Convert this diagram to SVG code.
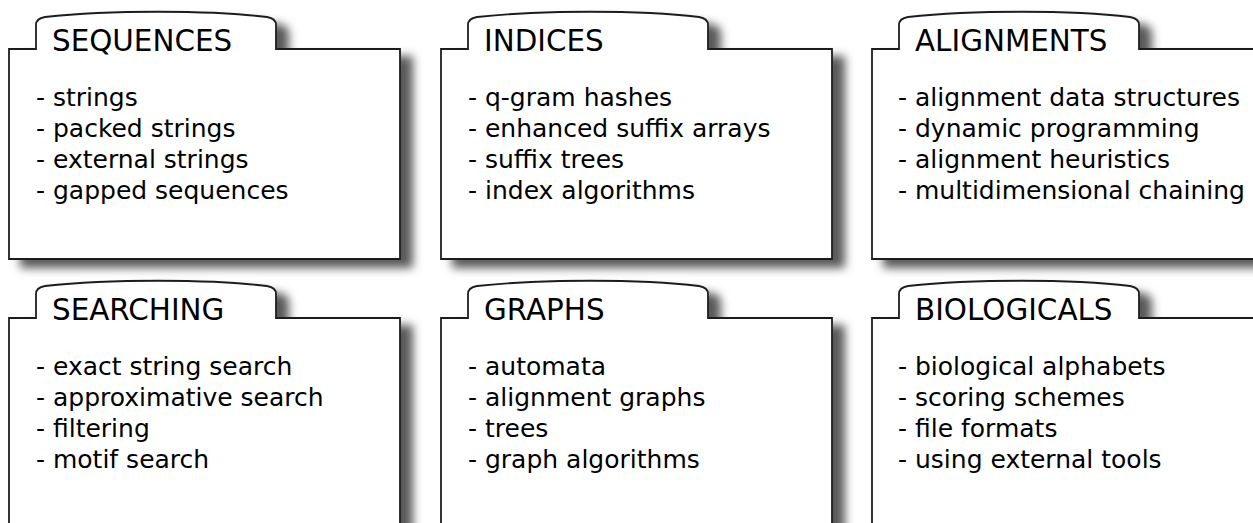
<svg xmlns="http://www.w3.org/2000/svg" width="1253" height="523" viewBox="0 0 1253 523">
<defs>
<filter id="sh" x="-10%" y="-10%" width="130%" height="130%">
<feDropShadow dx="12" dy="8" stdDeviation="5" flood-color="#000" flood-opacity="0.65"/>
</filter>
<path id="folder" d="M0,0 H27 V-24 C27,-29 30,-31 36,-32 C100,-39 200,-39 258,-32 C264,-31 267,-29 267,-24 V0 H391 V210 H0 Z"/>
</defs>
<style>
.box{fill:#fff;stroke:#1e1e1e;stroke-width:1.8;filter:url(#sh)}
.title{font-family:"DejaVu Sans",sans-serif;font-size:29.4px;fill:#000}
.item{font-family:"DejaVu Sans",sans-serif;font-size:25px;fill:#000}
</style>
<rect width="1253" height="523" fill="#fff"/>
<g id="connectors"/>
<g id="sequences" transform="translate(9,49)">
<use href="#folder" class="box"/>
<text class="title" x="43" y="1.5">SEQUENCES</text>
<text class="item" x="27" y="56.5">- strings</text>
<text class="item" x="27" y="87.5">- packed strings</text>
<text class="item" x="27" y="118.5">- external strings</text>
<text class="item" x="27" y="149.5">- gapped sequences</text>
</g>
<g id="indices" transform="translate(441,49)">
<use href="#folder" class="box"/>
<text class="title" x="43" y="1.5">INDICES</text>
<text class="item" x="27" y="56.5">- q-gram hashes</text>
<text class="item" x="27" y="87.5">- enhanced suffix arrays</text>
<text class="item" x="27" y="118.5">- suffix trees</text>
<text class="item" x="27" y="149.5">- index algorithms</text>
</g>
<g id="alignments" transform="translate(872,49)">
<use href="#folder" class="box"/>
<text class="title" x="43" y="1.5">ALIGNMENTS</text>
<text class="item" x="26" y="56.5">- alignment data structures</text>
<text class="item" x="26" y="87.5">- dynamic programming</text>
<text class="item" x="26" y="118.5">- alignment heuristics</text>
<text class="item" x="26" y="149.5">- multidimensional chaining</text>
</g>
<g id="searching" transform="translate(9,318)">
<use href="#folder" class="box"/>
<text class="title" x="43" y="1.5">SEARCHING</text>
<text class="item" x="27" y="56.5">- exact string search</text>
<text class="item" x="27" y="87.5">- approximative search</text>
<text class="item" x="27" y="118.5">- filtering</text>
<text class="item" x="27" y="149.5">- motif search</text>
</g>
<g id="graphs" transform="translate(441,318)">
<use href="#folder" class="box"/>
<text class="title" x="43" y="1.5">GRAPHS</text>
<text class="item" x="27" y="56.5">- automata</text>
<text class="item" x="27" y="87.5">- alignment graphs</text>
<text class="item" x="27" y="118.5">- trees</text>
<text class="item" x="27" y="149.5">- graph algorithms</text>
</g>
<g id="biologicals" transform="translate(872,318)">
<use href="#folder" class="box"/>
<text class="title" x="43" y="1.5">BIOLOGICALS</text>
<text class="item" x="26" y="56.5">- biological alphabets</text>
<text class="item" x="26" y="87.5">- scoring schemes</text>
<text class="item" x="26" y="118.5">- file formats</text>
<text class="item" x="26" y="149.5">- using external tools</text>
</g>
</svg>
